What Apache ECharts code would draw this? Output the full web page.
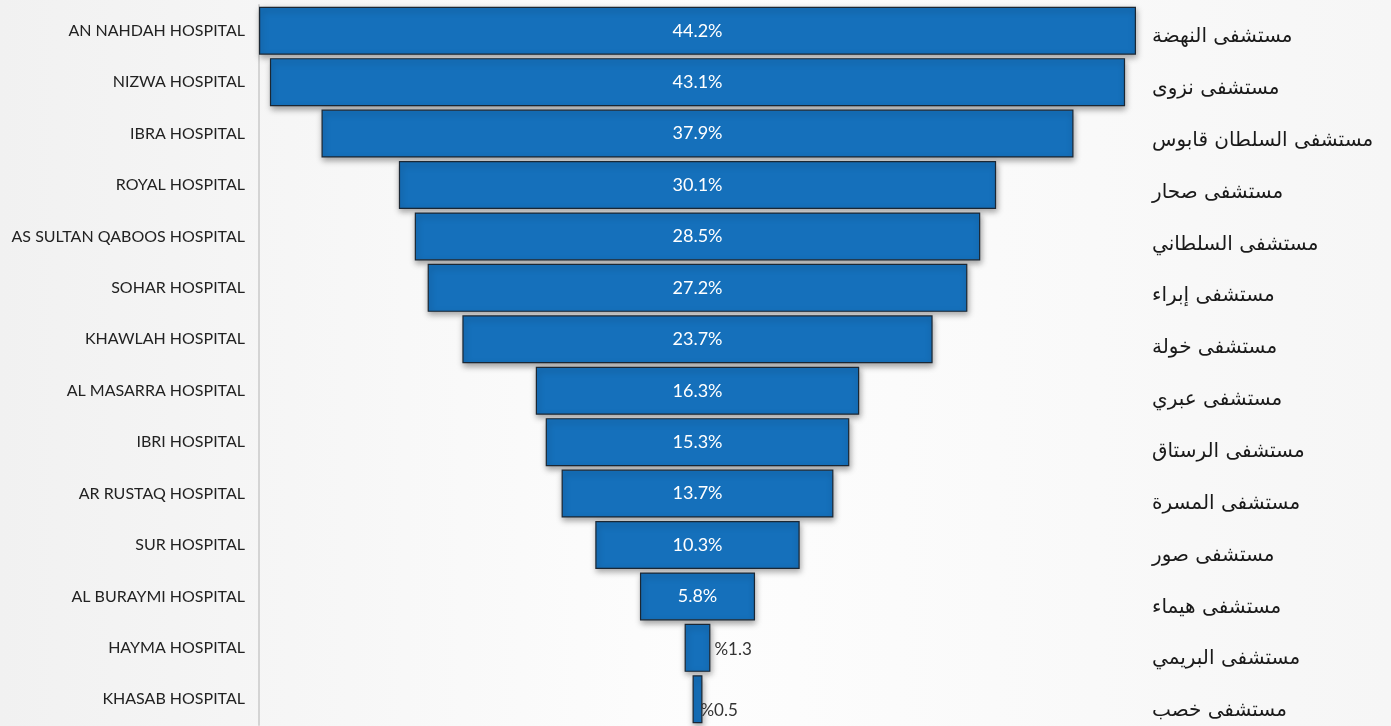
<!DOCTYPE html>
<html><head><meta charset="utf-8">
<script src="https://cdn.jsdelivr.net/npm/echarts@6/dist/echarts.min.js"></script>
<style>html,body{margin:0;padding:0;}#c{width:1391px;height:726px;}</style>
</head><body><div id="c"></div>
<script>
const categoriesEn = ['AN NAHDAH HOSPITAL','NIZWA HOSPITAL','IBRA HOSPITAL','ROYAL HOSPITAL','AS SULTAN QABOOS HOSPITAL','SOHAR HOSPITAL','KHAWLAH HOSPITAL','AL MASARRA HOSPITAL','IBRI HOSPITAL','AR RUSTAQ HOSPITAL','SUR HOSPITAL','AL BURAYMI HOSPITAL','HAYMA HOSPITAL','KHASAB HOSPITAL'];
const categoriesAr = ['مستشفى النهضة','مستشفى نزوى','مستشفى السلطان قابوس','مستشفى صحار','مستشفى السلطاني','مستشفى إبراء','مستشفى خولة','مستشفى عبري','مستشفى الرستاق','مستشفى المسرة','مستشفى صور','مستشفى هيماء','مستشفى البريمي','مستشفى خصب'];
const values = [44.2,43.1,37.9,30.1,28.5,27.2,23.7,16.3,15.3,13.7,10.3,5.8,1.3,0.5];

const maxV = Math.max(...values);
const offsets = values.map(v => (maxV - v) / 2);
const barData = values.map((v, i) => {
  const d = { value: v };
  if (v < 3) {
    d.label = {
      position: 'right', color: '#333', fontSize: 17,
      distance: i === values.length - 1 ? -2 : 4,
      offset: i === values.length - 1 ? [0, 11] : [0, 2],
      formatter: p => '%' + p.value
    };
  }
  return d;
});

const chart = echarts.init(document.getElementById('c'));
chart.setOption({
  backgroundColor: { type: 'linear', x: 0, y: 0, x2: 1, y2: 0, colorStops: [
    { offset: 0, color: '#f1f1f1' }, { offset: 0.5, color: '#fdfdfd' }, { offset: 1, color: '#f6f6f6' } ] },
  animation: false,
  grid: [
    { left: 259, width: 877, top: 5, height: 720, outerBoundsMode: 'none', containLabel: false },
    { left: 259, width: 877, top: 11, height: 726, outerBoundsMode: 'none', containLabel: false }
  ],
  xAxis: [
    { gridIndex: 0, type: 'value', min: 0, max: maxV, show: false },
    { gridIndex: 1, type: 'value', min: 0, max: maxV, show: false }
  ],
  yAxis: [
    { gridIndex: 0, type: 'category', data: categoriesEn, inverse: true,
      axisLine: { show: true, lineStyle: { color: '#d4d4d4', width: 2 } },
      axisTick: { show: false },
      axisLabel: { color: '#222', fontSize: 16, fontFamily: 'Lato', margin: 14 } },
    { gridIndex: 1, type: 'category', data: categoriesAr, inverse: true, position: 'right',
      axisLine: { show: false }, axisTick: { show: false },
      axisLabel: { color: '#1a1a1a', fontSize: 20, fontFamily: 'DejaVu Sans', margin: 16 } }
  ],
  series: [
    { type: 'bar', stack: 'f', xAxisIndex: 0, yAxisIndex: 0, data: offsets,
      itemStyle: { color: 'transparent' }, barWidth: 48, silent: true },
    { type: 'bar', stack: 'f', xAxisIndex: 0, yAxisIndex: 0, data: barData, barWidth: 48,
      itemStyle: { color: '#1570bb', borderColor: '#1b2733', borderWidth: 1.2,
        shadowBlur: 6, shadowColor: 'rgba(0,0,0,0.35)', shadowOffsetY: 3, shadowOffsetX: 1 },
      label: { show: true, position: 'inside', color: '#fff', fontSize: 18, fontFamily: 'Lato',
        formatter: p => p.value + '%' } }
  ]
});
</script></body></html>
